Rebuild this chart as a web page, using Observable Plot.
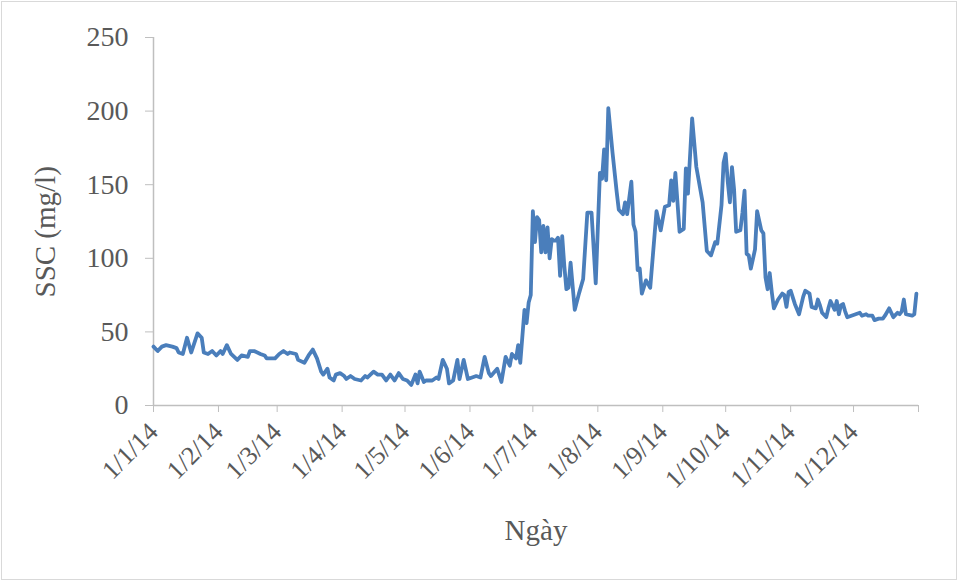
<!DOCTYPE html>
<html>
<head>
<meta charset="utf-8">
<script src="https://cdn.jsdelivr.net/npm/d3@7"></script>
<script src="https://cdn.jsdelivr.net/npm/@observablehq/plot@0.6"></script>
<style>
  body { margin: 0; background: #fff; }
  #chart svg { display: block; outline: 1px solid #d9d9d9; outline-offset: -2px; }
</style>
</head>
<body>
<div id="chart"></div>
<script>
// Day offsets from 1 Jan 2014 (day 0) and SSC (mg/l)
const dayOffsets = [
  0,2,4,6,9,11,12,14,16,18,21,23,24,26,28,30,32,33,35,37,40,42,45,46,48,51,53,54,56,58,60,62,64,65,68,69,72,74,76,78,80,81,83,84,86,87,89,91,
  92,94,96,99,101,102,105,107,109,111,113,115,117,119,121,123,125,126,127,129,130,133,135,136,138,140,141,143,145,146,148,150,152,154,156,158,160,161,164,166,168,170,171,173,174,175,177,178,179,180,
  181,182,183,184,185,186,187,188,189,190,191,192,193,194,195,196,197,198,199,201,203,205,207,209,211,213,214,215,216,217,219,221,222,224,225,226,228,229,230,231,232,233,235,237,240,242,244,246,247,248,249,251,253,254,255,257,259,262,264,266,268,269,271,272,273,274,275,276,277,278,280,281,282,283,284,285,287,288,290,291,292,293,294,295,296,298,300,301,302,303,304,306,308,310,311,313,314,316,317,318,319,321,322,323,325,326,327,328,329,330,331,333,335,337,338,340,341,343,344,346,348,349,351,352,353,355,356,357,358,359,362,363,364
];
const sscValues = [
  40,37,40,41,40,39,36,35,46,36,49,46,36,35,37,34,37,35,41,35,31,34,33,37,37,35,34,32,32,32,35,37,35,36,35,31,29,34,38,32,23,21,25,19,17,21,22,20,
  18,20,18,17,20,19,23,21,21,17,21,17,22,18,17,14,21,15,23,16,17,17,19,18,31,25,15,17,31,18,31,18,19,20,19,33,22,20,25,16,33,27,35,32,41,29,65,56,70,75,
  132,111,128,126,104,122,104,121,100,113,112,112,114,88,115,95,79,80,97,65,76,86,131,131,83,158,154,174,153,202,172,145,133,130,138,130,152,123,118,92,93,76,85,80,132,119,135,136,153,139,158,118,120,161,144,195,162,138,105,102,111,110,136,165,171,152,138,162,147,118,119,131,146,103,102,93,106,132,119,117,87,79,90,77,66,72,76,75,67,77,78,69,62,74,78,76,67,66,72,68,63,60,66,71,65,71,62,68,69,64,60,61,62,63,61,62,61,61,58,59,59,61,66,63,60,63,62,64,72,62,61,62,76
];
const yTicks = [0, 50, 100, 150, 200, 250];
const monthTickLabels = ["1/1/14","1/2/14","1/3/14","1/4/14","1/5/14","1/6/14","1/7/14","1/8/14","1/9/14","1/10/14","1/11/14","1/12/14",""];

const data = dayOffsets.map((d, i) => ({date: new Date(Date.UTC(2014, 0, 1 + d)), ssc: sscValues[i]}));
const monthTicks = monthTickLabels.map((_, i) => new Date(Date.UTC(2014, i, 1)));
const fmt = d => monthTickLabels[monthTicks.findIndex(t => +t === +d)];

const chart = Plot.plot({
  width: 958,
  height: 581,
  marginLeft: 153,
  marginRight: 40,
  marginTop: 37,
  marginBottom: 176,
  style: {fontFamily: "'Liberation Serif', 'Times New Roman', serif", background: "#fff"},
  x: {type: "utc", domain: [new Date(Date.UTC(2014,0,1)), new Date(Date.UTC(2015,0,1))]},
  y: {domain: [0, 250]},
  marks: [
    Plot.ruleY([0], {stroke: "#bfbfbf", strokeWidth: 1.5}),
    Plot.ruleX([new Date(Date.UTC(2014,0,1))], {stroke: "#bfbfbf", strokeWidth: 1.5}),
    Plot.axisY({ticks: yTicks, tickSize: 8, tickPadding: 17, fontSize: 28, stroke: "#bfbfbf", fill: "#595959", label: null}),
    Plot.axisX({ticks: monthTicks, tickFormat: fmt, tickRotate: -45, tickSize: 7, tickPadding: 15, fontSize: 26, stroke: "#bfbfbf", fill: "#595959", label: null}),
    Plot.line(data, {x: "date", y: "ssc", stroke: "#4a7ebb", strokeWidth: 3.8, strokeLinejoin: "round", strokeLinecap: "round"}),
    Plot.text(["SSC (mg/l)"], {frameAnchor: "left", dx: -108, dy: 76, rotate: -90, fontSize: 29, fill: "#595959"}),
    Plot.text(["Ngày"], {frameAnchor: "bottom", dy: 134, fontSize: 29, fill: "#595959"})
  ]
});
document.getElementById("chart").appendChild(chart);
</script>
</body>
</html>
